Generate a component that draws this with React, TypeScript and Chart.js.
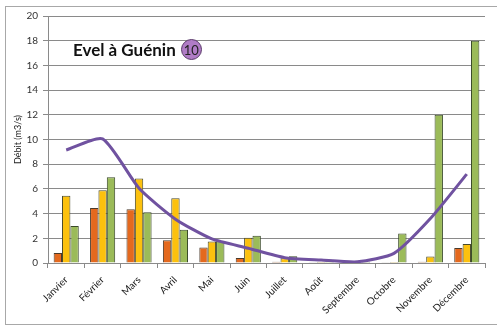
import React, { useEffect, useRef } from "react";
import { Chart, registerables } from "chart.js";

Chart.register(...registerables);

const months = [
  "Janvier", "Février", "Mars", "Avril", "Mai", "Juin",
  "Juillet", "Août", "Septembre", "Octobre", "Novembre", "Décembre",
];

// Monthly discharge (m3/s), three bar series
const seriesOrange = [0.8, 4.45, 4.35, 1.85, 1.25, 0.4, 0.1, 0.03, 0.03, 0.03, 0.1, 1.22];
const seriesYellow = [5.45, 5.9, 6.85, 5.25, 1.75, 2.05, 0.38, 0.08, 0.05, 0.08, 0.52, 1.54];
const seriesGreen = [3.0, 6.95, 4.1, 2.7, 1.8, 2.2, 0.55, 0.15, 0.1, 2.38, 12.0, 18.0];

// Mean monthly discharge (line)
const meanFlow = [9.15, 10.05, 6.05, 3.55, 1.95, 1.2, 0.43, 0.24, 0.1, 0.78, 3.6, 7.2];

const yTicks = [0, 2, 4, 6, 8, 10, 12, 14, 16, 18, 20];

const FONT = "Lato, 'Open Sans', sans-serif";

export default function App() {
  const canvasRef = useRef<HTMLCanvasElement | null>(null);

  useEffect(() => {
    document.body.style.margin = "0";
    const ctx = canvasRef.current!.getContext("2d")!;
    const chart = new Chart(ctx, {
      type: "bar",
      data: {
        labels: months,
        datasets: [
          {
            type: "line",
            label: "Moyenne",
            data: meanFlow,
            borderColor: "#7052a0",
            borderWidth: 3,
            pointRadius: 0,
            tension: 0.2,
            fill: false,
            order: 0,
          } as any,
          {
            label: "Série 1",
            data: seriesOrange,
            backgroundColor: "#e4691e",
            borderColor: "#4a3a2a",
            borderWidth: 1,
            order: 1,
          },
          {
            label: "Série 2",
            data: seriesYellow,
            backgroundColor: "#fcc10e",
            borderColor: "#4a4a2a",
            borderWidth: 1,
            order: 1,
          },
          {
            label: "Série 3",
            data: seriesGreen,
            backgroundColor: "#9bbb59",
            borderColor: "#3a4a2a",
            borderWidth: 1,
            order: 1,
          },
        ],
      },
      options: {
        responsive: false,
        animation: false,
        layout: { padding: { left: 10, right: 12, top: 16, bottom: 0 } },
        plugins: {
          legend: { display: false },
          tooltip: { enabled: false },
          title: { display: false },
        },
        datasets: {
          bar: { categoryPercentage: 0.69, barPercentage: 1.0 },
        },
        scales: {
          x: {
            grid: {
              display: true,
              drawOnChartArea: false,
              drawTicks: true,
              tickLength: 5,
              color: "#8a8a8a",
              offset: true,
            },
            border: { display: true, color: "#8a8a8a", width: 1 },
            ticks: {
              minRotation: 45,
              maxRotation: 45,
              autoSkip: false,
              color: "#222",
              font: { family: FONT, size: 10 },
              padding: 6,
            },
            afterFit: (scale: any) => {
              scale.height = 65;
            },
          },
          y: {
            min: 0,
            max: 20,
            afterBuildTicks: (scale: any) => {
              scale.ticks = yTicks.map((v) => ({ value: v }));
            },
            grid: {
              color: "#8a8a8a",
              lineWidth: 1,
              tickLength: 5,
            },
            border: { display: true, color: "#8a8a8a", width: 1 },
            ticks: {
              color: "#333",
              font: { family: FONT, size: 10 },
              padding: 5,
            },
            title: {
              display: true,
              text: "Débit (m3/s)",
              color: "#222",
              font: { family: FONT, size: 9 },
              padding: { top: 3, bottom: 4 },
            },
            afterFit: (scale: any) => {
              scale.width = 38;
            },
          },
        },
      },
    });
    return () => chart.destroy();
  }, []);

  return (
    <div style={{ position: "relative", width: 497, height: 328, overflow: "hidden", background: "#fff" }}>
      <div
        style={{
          position: "absolute",
          left: 5,
          top: 6,
          width: 510,
          height: 319,
          border: "1px solid #a8a8a8",
          boxSizing: "border-box",
        }}
      />
      <canvas ref={canvasRef} width={497} height={328} style={{ position: "absolute", left: 0, top: 0 }} />
      <div
        style={{
          position: "absolute",
          left: 73,
          top: 39,
          display: "flex",
          alignItems: "center",
          fontFamily: FONT,
          fontWeight: 700,
          fontSize: 17,
          color: "#111",
          whiteSpace: "nowrap",
        }}
      >
        <span>Evel à Guénin</span>
        <span
          style={{
            marginLeft: 5,
            width: 21,
            height: 21,
            borderRadius: "50%",
            background: "#b07cc6",
            border: "1px solid #5a3a6a",
            boxSizing: "border-box",
            display: "inline-flex",
            alignItems: "center",
            justifyContent: "center",
            fontSize: 13,
            fontWeight: 400,
            color: "#222",
          }}
        >
          10
        </span>
      </div>
    </div>
  );
}
